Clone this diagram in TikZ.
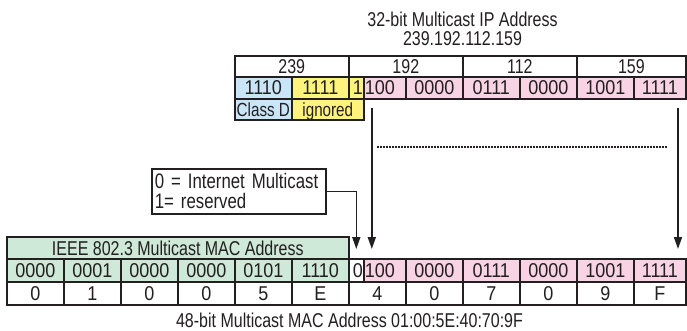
\documentclass[tikz,border=0pt]{standalone}
\usepackage{fontspec}
\setmainfont[FakeStretch=0.8]{Liberation Sans}
\newfontfamily\bitfont[FakeStretch=0.9]{Liberation Sans}
\usepackage{tikz}
\usetikzlibrary{positioning, arrows.meta}
\definecolor{ink}{RGB}{35,31,32}
\definecolor{classblue}{RGB}{200,230,247}
\definecolor{ignoreyellow}{RGB}{255,243,125}
\definecolor{mappedpink}{RGB}{248,211,228}
\definecolor{macgreen}{RGB}{206,233,215}

\begin{document}
\begin{tikzpicture}[
	x=1pt, y=-1pt,
	every node/.style={font=\fontsize{20}{19}\selectfont, text=ink},
	cell/.style={rectangle, draw=ink, line width=1.6pt, inner sep=0pt, outer sep=0pt, minimum width=57pt, minimum height=22pt, text height=14pt, text depth=0pt},
	bits/.style={cell, font=\bitfont\fontsize{20}{20}\selectfont},
	lowbit/.style={bits, minimum width=42pt, text width=40pt, inner xsep=1pt, align=left},
	highbit/.style={bits, minimum width=15pt, text width=13pt, inner xsep=1pt, align=right},
	legend/.style={rectangle, draw=ink, line width=1.6pt, align=left, inner xsep=3pt, text width=168pt, minimum height=45pt, font=\fontsize{21}{20}\selectfont},
	link/.style={draw=ink, line width=1.6pt, -{Triangle[length=12pt, width=8pt]}},
	gap/.style={draw=ink, line width=1.5pt, dash pattern=on 1.5pt off 1.5pt}
	]
	\useasboundingbox (0,0) rectangle (687,331);

	% IP address caption
	\node[align=center] (iptitle) at (462.5,29) {32-bit Multicast IP Address\\239.192.112.159};

	% IP octets
	\node[cell, minimum width=114pt, minimum height=21pt, anchor=north west] (oct239) at (234.8,56) {239};
	\node[cell, minimum width=114pt, minimum height=21pt, right=0pt of oct239] (oct192) {192};
	\node[cell, minimum width=114pt, minimum height=21pt, right=0pt of oct192] (oct112) {112};
	\node[cell, minimum width=109.2pt, minimum height=21pt, right=0pt of oct112] (oct159) {159};

	% IP bits
	\node[bits, fill=classblue, anchor=north west] (ipbit1) at (234.8,77) {1110};
	\node[bits, fill=ignoreyellow, right=0pt of ipbit1] (ipbit2) {1111};
	\node[highbit, fill=ignoreyellow, right=0pt of ipbit2] (ipbit3) {1};
	\node[lowbit, fill=mappedpink, right=0pt of ipbit3] (ipbit4) {100};
	\node[bits, fill=mappedpink, right=0pt of ipbit4] (ipbit5) {0000};
	\node[bits, fill=mappedpink, right=0pt of ipbit5] (ipbit6) {0111};
	\node[bits, fill=mappedpink, right=0pt of ipbit6] (ipbit7) {0000};
	\node[bits, fill=mappedpink, right=0pt of ipbit7] (ipbit8) {1001};
	\node[bits, fill=mappedpink, minimum width=52.2pt, right=0pt of ipbit8] (ipbit9) {1111};

	% Class D / ignored
	\node[cell, fill=classblue, minimum height=21pt, font=\fontsize{19}{18}\selectfont, below=0pt of ipbit1] (classd) {Class D};
	\node[cell, fill=ignoreyellow, minimum width=72pt, minimum height=21pt, font=\fontsize{19}{18}\selectfont, right=0pt of classd] (ignored) {ignored};

	% Flag legend
	\node[legend, anchor=north west] (flag) at (151,168) {0 = Internet Multicast\\1= reserved};

	% MAC header
	\node[cell, fill=macgreen, minimum width=342pt, anchor=north west] (macname) at (6.8,237) {IEEE 802.3 Multicast MAC Address};

	% MAC bits
	\node[bits, fill=macgreen, minimum height=23pt, anchor=north west] (macbit1) at (6.8,259) {0000};
	\node[bits, fill=macgreen, minimum height=23pt, right=0pt of macbit1] (macbit2) {0001};
	\node[bits, fill=macgreen, minimum height=23pt, right=0pt of macbit2] (macbit3) {0000};
	\node[bits, fill=macgreen, minimum height=23pt, right=0pt of macbit3] (macbit4) {0000};
	\node[bits, fill=macgreen, minimum height=23pt, right=0pt of macbit4] (macbit5) {0101};
	\node[bits, fill=macgreen, minimum height=23pt, right=0pt of macbit5] (macbit6) {1110};
	\node[highbit, minimum height=23pt, right=0pt of macbit6] (macbit7) {0};
	\node[lowbit, fill=mappedpink, minimum height=23pt, right=0pt of macbit7] (macbit8) {100};
	\node[bits, fill=mappedpink, minimum height=23pt, right=0pt of macbit8] (macbit9) {0000};
	\node[bits, fill=mappedpink, minimum height=23pt, right=0pt of macbit9] (macbit10) {0111};
	\node[bits, fill=mappedpink, minimum height=23pt, right=0pt of macbit10] (macbit11) {0000};
	\node[bits, fill=mappedpink, minimum height=23pt, right=0pt of macbit11] (macbit12) {1001};
	\node[bits, fill=mappedpink, minimum height=23pt, minimum width=52.2pt, right=0pt of macbit12] (macbit13) {1111};

	% MAC hex digits
	\node[bits, minimum height=23pt, anchor=north west] (hex1) at (6.8,282) {0};
	\node[bits, minimum height=23pt, right=0pt of hex1] (hex2) {1};
	\node[bits, minimum height=23pt, right=0pt of hex2] (hex3) {0};
	\node[bits, minimum height=23pt, right=0pt of hex3] (hex4) {0};
	\node[bits, minimum height=23pt, right=0pt of hex4] (hex5) {5};
	\node[bits, minimum height=23pt, right=0pt of hex5] (hex6) {E};
	\node[bits, minimum height=23pt, right=0pt of hex6] (hex7) {4};
	\node[bits, minimum height=23pt, right=0pt of hex7] (hex8) {0};
	\node[bits, minimum height=23pt, right=0pt of hex8] (hex9) {7};
	\node[bits, minimum height=23pt, right=0pt of hex9] (hex10) {0};
	\node[bits, minimum height=23pt, right=0pt of hex10] (hex11) {9};
	\node[bits, minimum height=23pt, minimum width=52.2pt, right=0pt of hex11] (hex12) {F};

	% MAC caption
	\node (macsub) at (349.5,320) {48-bit Multicast MAC Address 01:00:5E:40:70:9F};

	% Arrows
	\coordinate (lowtop) at ([xshift=8pt, yshift=-9pt]ipbit4.south west);
	\coordinate (lowend) at ([xshift=8pt, yshift=10pt]macbit8.north west);
	\coordinate (hightop) at ([xshift=-8pt, yshift=-9pt]ipbit9.south east);
	\coordinate (highend) at ([xshift=-8pt, yshift=10pt]macbit13.north east);
	\coordinate (dotstart) at (377,147);
	\coordinate (dotend) at (668,147);
	\draw[link] (flag.east) -| ([yshift=10pt]macbit7.north);
	\draw[link] (lowtop) -- (lowend);
	\draw[link] (hightop) -- (highend);
	\draw[gap] (dotstart) -- (dotend);

\end{tikzpicture}
\end{document}
